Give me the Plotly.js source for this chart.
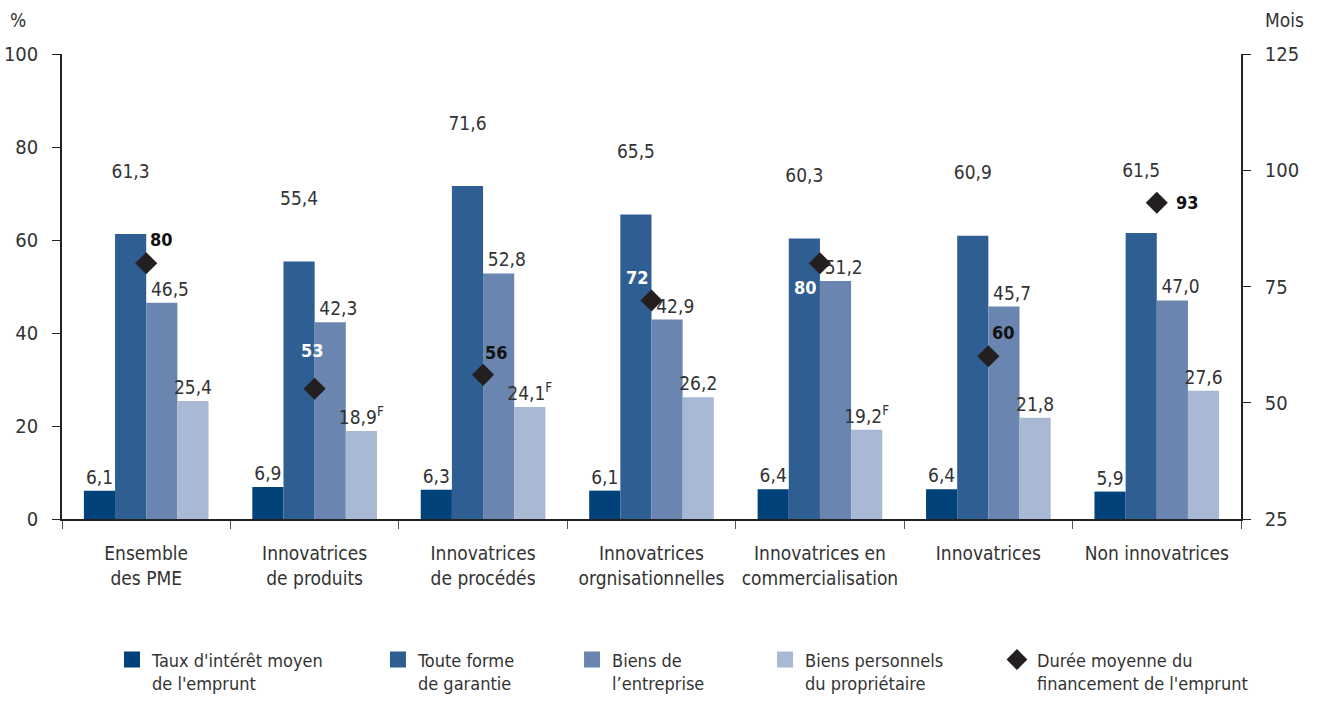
<!DOCTYPE html>
<html>
<head>
<meta charset="utf-8">
<script src="https://cdn.plot.ly/plotly-3.0.1.min.js"></script>
<style>
  html, body { margin: 0; padding: 0; background: #fff; }
  #chart { width: 1320px; height: 703px; }
</style>
</head>
<body>
<div id="chart"></div>
<script>
// categories (x axis)
var categories = [
  "Ensemble<br>des PME",
  "Innovatrices<br>de produits",
  "Innovatrices<br>de procédés",
  "Innovatrices<br>orgnisationnelles",
  "Innovatrices en<br>commercialisation",
  "Innovatrices",
  "Non innovatrices"
];

// left axis, %
var tauxInteret = [6.1, 6.9, 6.3, 6.1, 6.4, 6.4, 5.9];
var touteGarantie = [61.3, 55.4, 71.6, 65.5, 60.3, 60.9, 61.5];
var biensEntreprise = [46.5, 42.3, 52.8, 42.9, 51.2, 45.7, 47.0];
var biensPersonnels = [25.4, 18.9, 24.1, 26.2, 19.2, 21.8, 27.6];
var flagsPersonnels = ["", "F", "F", "", "F", "", ""];

// right axis, mois
var dureeMois = [80, 53, 56, 72, 80, 60, 93];

// label placement for the diamonds (pixel shift from the marker) and colour
var dureeShiftX = [15, -2, 13, -14, -14, 15, 31];
var dureeShiftY = [24, 38, 22, 23, -24, 24, 0];
var dureeLabelColor = ["#111", "#fff", "#111", "#fff", "#fff", "#111", "#111"];

var FONT = '"DejaVu Sans Condensed", "DejaVu Sans", sans-serif';
var TXT = "#333333";

var colTaux = "#01427a", colToute = "#2f5e92", colEnt = "#6a86b0", colPers = "#a9b8d4";

function fmt(v, flag) {
  var s = v.toFixed(1).replace(".", ",");
  if (flag) s += "<sup>" + flag + "</sup>";
  return s;
}

function barTrace(vals, color, flags, lead, lift) {
  var txt = vals.map(function (v, i) { return lead + fmt(v, flags ? flags[i] : "") + lift; });
  return {
    type: "bar", x: categories, y: vals, showlegend: false,
    marker: { color: color },
    text: txt, textposition: "outside", cliponaxis: false, constraintext: "none",
    textfont: { family: FONT, size: 19, color: TXT },
    hoverinfo: "y"
  };
}

// legend-only entries (bigger square swatches than the bar legend symbol)
function legendEntry(name, color, symbol, legendId) {
  return {
    type: "scatter", mode: "markers", x: [null], y: [null], name: name,
    legend: legendId, hoverinfo: "skip",
    marker: { symbol: symbol, size: 20, color: color }
  };
}

var data = [
  barTrace(tauxInteret, colTaux, null, "", ""),
  barTrace(touteGarantie, colToute, null, "", "<br> <br> "),
  barTrace(biensEntreprise, colEnt, null, "\u00a0\u00a0\u00a0", ""),
  barTrace(biensPersonnels, colPers, flagsPersonnels, "", ""),
  {
    type: "scatter", mode: "markers", x: categories, y: dureeMois, yaxis: "y2",
    showlegend: false, cliponaxis: false,
    marker: { symbol: "diamond", size: 17, color: "#231f20" }
  },
  legendEntry("Taux d'intérêt moyen<br>de l'emprunt", colTaux, "square", "legend"),
  legendEntry("Toute forme<br>de garantie", colToute, "square", "legend2"),
  legendEntry("Biens de<br>l’entreprise", colEnt, "square", "legend3"),
  legendEntry("Biens personnels<br>du propriétaire", colPers, "square", "legend4"),
  legendEntry("Durée moyenne du<br>financement de l'emprunt", "#231f20", "diamond", "legend5")
];

function legendBox(x) {
  return {
    orientation: "h", x: x, y: -0.263, xanchor: "left", yanchor: "top",
    font: { family: FONT, size: 18, color: TXT },
    itemsizing: "trace", valign: "top", bgcolor: "rgba(0,0,0,0)"
  };
}

var annotations = dureeMois.map(function (v, i) {
  return {
    x: categories[i], y: v, xref: "x", yref: "y2", text: String(v), showarrow: false,
    xshift: dureeShiftX[i], yshift: dureeShiftY[i],
    font: { family: FONT, size: 18, weight: "bold", color: dureeLabelColor[i] }
  };
});
annotations.push(
  { text: "%", xref: "paper", yref: "paper", x: -0.0373, y: 1.073, showarrow: false,
    xanchor: "center", yanchor: "middle", font: { family: FONT, size: 19, color: TXT } },
  { text: "Mois", xref: "paper", yref: "paper", x: 1.0373, y: 1.073, showarrow: false,
    xanchor: "center", yanchor: "middle", font: { family: FONT, size: 19, color: TXT } }
);

var layout = {
  width: 1320, height: 703,
  margin: { l: 62, r: 79, t: 54, b: 184, autoexpand: false },
  paper_bgcolor: "#fff", plot_bgcolor: "#fff",
  font: { family: FONT, color: TXT, size: 19 },
  barmode: "group", bargap: 0.26, bargroupgap: 0,
  showlegend: true,
  legend: legendBox(0.0424),
  legend2: legendBox(0.268),
  legend3: legendBox(0.4326),
  legend4: legendBox(0.5963),
  legend5: legendBox(0.793),
  xaxis: {
    type: "category", showline: true, linecolor: "#222", linewidth: 2,
    ticks: "outside", tickson: "boundaries", ticklen: 8, tickcolor: "#555",
    showgrid: false, zeroline: false, ticklabelstandoff: 16,
    tickfont: { family: FONT, size: 19, color: TXT }
  },
  yaxis: {
    range: [0, 100], dtick: 20, showline: true, linecolor: "#222", linewidth: 1.5,
    ticks: "outside", ticklen: 8, tickcolor: "#222", showgrid: false, zeroline: false,
    ticklabelstandoff: 10, tickfont: { family: FONT, size: 20, color: TXT }
  },
  yaxis2: {
    range: [25, 125], dtick: 25, overlaying: "y", side: "right",
    showline: true, linecolor: "#222", linewidth: 1.5,
    ticks: "outside", ticklen: 8, tickcolor: "#222", showgrid: false, zeroline: false,
    ticklabelstandoff: 10, tickfont: { family: FONT, size: 20, color: TXT }
  },
  annotations: annotations
};

Plotly.newPlot("chart", data, layout, { displayModeBar: false, responsive: false });
</script>
</body>
</html>
